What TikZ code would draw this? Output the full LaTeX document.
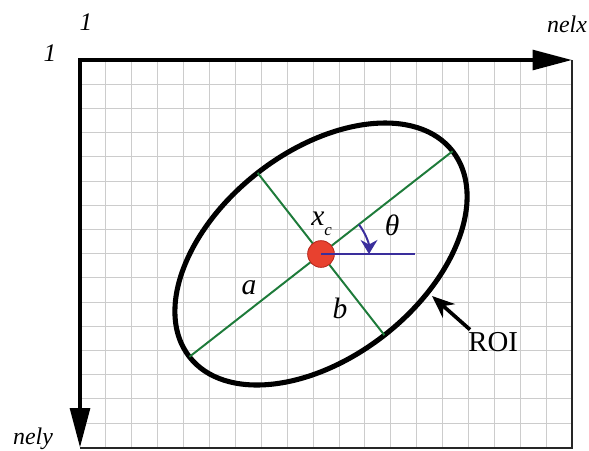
\documentclass[tikz,border=0pt]{standalone}
\usepackage{fontspec}
\setmainfont{Liberation Serif}
\usetikzlibrary{positioning,arrows.meta,calc}
\definecolor{gridGray}{HTML}{CCCCCC}
\definecolor{axisGreen}{HTML}{1E7B3A}
\definecolor{angleBlue}{HTML}{3A2E9C}
\definecolor{centreRed}{HTML}{E8412F}
\definecolor{centreEdge}{HTML}{B8281E}
\tikzset{
  lbl/.style={inner sep=0pt, font=\fontsize{#1}{#1}\selectfont\itshape},
  lbl/.default=17,
  gridline/.style={gridGray, line width=0.7pt},
  halfaxis/.style={axisGreen, line width=1.4pt},
}

\begin{document}
\begin{tikzpicture}[x=0.025cm, y=-0.025cm, >=Stealth]
        \useasboundingbox (0,0) rectangle (589,450);
        % pixel grid
        \foreach \i in {1,...,18}
          \draw[gridline] ({80+\i*25.9},60) -- ({80+\i*25.9},447.5);
        \foreach \j in {1,...,15}
          \draw[gridline] (80,{60+\j*24.2}) -- (572,{60+\j*24.2});
        % image frame and axes
        \coordinate (origin) at (80,60);
        \coordinate (xEnd) at (572,60);
        \coordinate (yEnd) at (80,447.5);
        \coordinate (farCorner) at (572,447.5);
        \draw[line width=1.4pt, black!85] (xEnd) -- (farCorner) -- (yEnd);
        \draw[line width=2.6pt, line cap=rect, -{Triangle[length=28pt,width=14pt]}] (origin) -- (xEnd);
        \draw[line width=2.6pt, line cap=rect, -{Triangle[length=28pt,width=14pt]}] (origin) -- (yEnd);
        \node[lbl=18, anchor=base] (oneTop) at (86,30) {1};
        \node[lbl=18, anchor=base] (oneLeft) at (50,61) {1};
        \node[lbl, anchor=base] (nelx) at (567,32) {nelx};
        \node[lbl, anchor=base] (nely) at (33,444) {nely};
        % region of interest
        \begin{scope}[shift={(321,254)}, rotate=38]
          \coordinate (c) at (0,0);
          \coordinate (majA) at (-167,0);
          \coordinate (majB) at (167,0);
          \coordinate (minA) at (0,-103);
          \coordinate (minB) at (0,103);
          \draw[line width=3.6pt] (c) ellipse [x radius=167, y radius=103];
        \end{scope}
        \draw[halfaxis] (majA) -- (majB);
        \draw[halfaxis] (minA) -- (minB);
        \node[circle, fill=centreRed, draw=centreEdge, line width=0.6pt, minimum size=19pt, inner sep=0pt] (dot) at (c) {};
        \coordinate (hEnd) at (415,254);
        \draw[angleBlue, line width=1.4pt] (c) -- (hEnd);
        \draw[angleBlue, line width=1.4pt, -{Stealth[length=10pt,width=12pt]}] ($(c)+(-38:48)$) arc [start angle=-38, end angle=0, radius=48];
        \node[lbl=21, anchor=base west] (xc) at (311,225) {x\raisebox{-0.35em}{\fontsize{12}{12}\selectfont c}};
        \node[lbl=21, anchor=base] (theta) at (392,235) {θ};
        \node[lbl=21, anchor=base] (aLbl) at (249,294) {a};
        \node[lbl=21, anchor=base] (bLbl) at (340,318) {b};
        \node[inner sep=0pt, font=\fontsize{20.5}{20.5}\selectfont, anchor=base west] (roi) at (468,351) {ROI};
        \coordinate (roiTip) at (432,296);
        \draw[line width=2.6pt, -{Stealth[length=16pt,width=13pt]}] ($(roi.north west)+(2,-2)$) -- (roiTip);
      \end{tikzpicture}
\end{document}
